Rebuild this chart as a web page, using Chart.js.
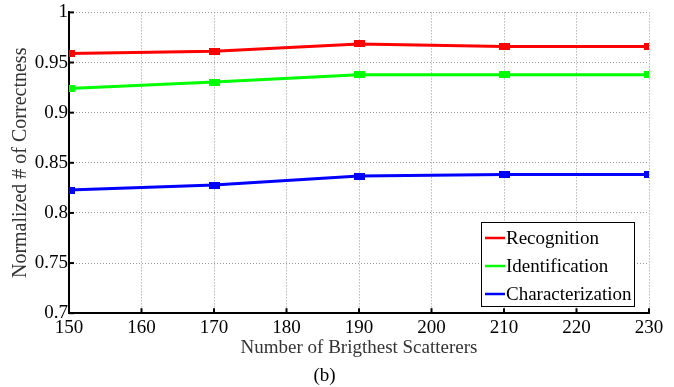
<!DOCTYPE html>
<html><head><meta charset="utf-8">
<script src="https://cdn.jsdelivr.net/npm/chart.js@4/dist/chart.umd.min.js"></script>
<style>html,body{margin:0;padding:0;background:#fff}#wrap{width:674px;height:387px}</style>
</head><body><div id="wrap"><canvas id="c" width="674" height="387"></canvas></div>
<script>
const xValues = [150, 170, 190, 210, 230];
const recognition = [0.959, 0.9613, 0.9685, 0.9659, 0.9659];
const identification = [0.9242, 0.9305, 0.9377, 0.9377, 0.9377];
const characterization = [0.8228, 0.8278, 0.8368, 0.8384, 0.8384];
const seriesNames = ['Recognition', 'Identification', 'Characterization'];
const seriesColors = ['#ff0000', '#00ff00', '#0000ff'];
const xTitle = 'Number of Brigthest Scatterers';
const yTitle = 'Normalized # of Correctness';
const caption = '(b)';

const serif = "'Liberation Serif', 'Times New Roman', serif";
const toPts = arr => arr.map((v, i) => ({x: xValues[i], y: v}));
const allSeries = [recognition, identification, characterization];

function markerFor(color) {
  const c = document.createElement('canvas');
  c.width = 11; c.height = 7;
  const g = c.getContext('2d');
  g.fillStyle = color; g.fillRect(0, 0, 11, 7);
  return c;
}

const datasets = allSeries.map((s, i) => ({
  label: seriesNames[i], data: toPts(s), borderColor: seriesColors[i], backgroundColor: seriesColors[i],
  borderWidth: 3, pointStyle: markerFor(seriesColors[i]), pointRadius: 5, tension: 0
}));

const tickPlugin = {
  id: 'ticksAndLegend',
  afterDraw(chart) {
    const ctx = chart.ctx, xs = chart.scales.x, ys = chart.scales.y, a = chart.chartArea;
    ctx.save();
    ctx.strokeStyle = '#000'; ctx.lineWidth = 2;
    xs.ticks.forEach(t => { const p = xs.getPixelForValue(t.value); ctx.beginPath(); ctx.moveTo(p, a.bottom); ctx.lineTo(p, a.bottom - 5); ctx.stroke(); });
    ys.ticks.forEach(t => { const p = ys.getPixelForValue(t.value); ctx.beginPath(); ctx.moveTo(a.left, p); ctx.lineTo(a.left + 5, p); ctx.stroke(); });
    // legend
    const lx = 481, ly = 222, lw = 153, lh = 84;
    ctx.fillStyle = '#fff'; ctx.fillRect(lx, ly, lw, lh);
    ctx.lineWidth = 1; ctx.strokeStyle = '#000'; ctx.strokeRect(lx + 0.5, ly + 0.5, lw, lh);
    ctx.font = '19px ' + serif; ctx.textBaseline = 'middle'; ctx.fillStyle = '#000';
    seriesNames.forEach((n, i) => {
      const yy = ly + 16 + i * 28;
      ctx.strokeStyle = seriesColors[i]; ctx.lineWidth = 2.5;
      ctx.beginPath(); ctx.moveTo(lx + 4, yy); ctx.lineTo(lx + 24, yy); ctx.stroke();
      ctx.fillText(n, lx + 25, yy + 1);
    });
    ctx.restore();
  }
};

new Chart(document.getElementById('c'), {
  type: 'line',
  data: {datasets},
  options: {
    responsive: false, animation: false, devicePixelRatio: 1,
    layout: {padding: {left: 0, right: 25, top: 12, bottom: 0}},
    plugins: {
      legend: {display: false}, tooltip: {enabled: false},
      title: {display: true, text: caption, position: 'bottom', color: '#000', font: {family: serif, size: 19, weight: 'normal'}, padding: {top: 2, bottom: 0}}
    },
    scales: {
      x: {
        type: 'linear', min: 150, max: 230,
        ticks: {stepSize: 10, color: '#000', font: {family: serif, size: 19}, padding: 3, maxRotation: 0},
        grid: {color: '#999', lineWidth: 1, drawTicks: false},
        border: {display: true, color: '#000', width: 2, dash: [1, 2]},
        title: {display: true, text: xTitle, color: '#333', font: {family: serif, size: 19}, padding: {top: 0, bottom: 3}},
        afterFit(s) { s.height = 49; }
      },
      y: {
        min: 0.7, max: 1,
        ticks: {stepSize: 0.05, color: '#000', font: {family: serif, size: 19}, padding: 1, callback: v => String(Number(v.toFixed(2)))},
        grid: {color: '#999', lineWidth: 1, drawTicks: false},
        border: {display: true, color: '#000', width: 2, dash: [1, 2]},
        title: {display: true, text: yTitle, color: '#333', font: {family: serif, size: 20}, padding: {top: 9, bottom: 0}},
        afterFit(s) { s.width = 69; }
      }
    }
  },
  plugins: [tickPlugin]
});
</script>
</body></html>
